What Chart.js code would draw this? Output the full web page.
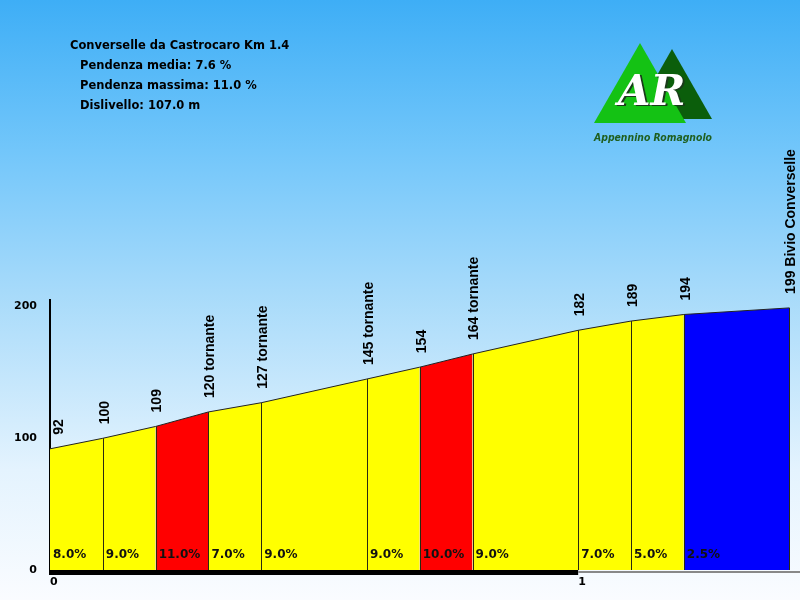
<!DOCTYPE html>
<html>
<head>
<meta charset="utf-8">
<script src="https://cdn.jsdelivr.net/npm/chart.js@4"></script>
<style>
  html, body { margin: 0; padding: 0; }
  body {
    width: 800px; height: 600px; overflow: hidden;
    background: linear-gradient(to bottom, #3eaef6 0px, #72c6fa 150px, #a6dafa 290px, #e4f3fe 470px, #fafcff 600px);
  }
  #box { position: relative; width: 800px; height: 600px; }
</style>
</head>
<body>
<div id="box"><canvas id="profilo"></canvas></div>
<script>
// ==============================
// DATI
// ==============================
const km = [0, 0.1, 0.2, 0.3, 0.4, 0.6, 0.7, 0.8, 1.0, 1.1, 1.2, 1.4];
const quote = [92, 100, 109, 120, 127, 145, 154, 164, 182, 189, 194, 199];
const nomiPunti = ["92", "100", "109", "120 tornante", "127 tornante", "145 tornante",
                   "154", "164 tornante", "182", "189", "194", "199 Bivio Converselle"];
const pendenze = [8.0, 9.0, 11.0, 7.0, 9.0, 9.0, 10.0, 9.0, 7.0, 5.0, 2.5];
const tickY = [0, 100, 200];
const tickKm = [0, 1];
const intestazione = [
    "Converselle da Castrocaro Km 1.4",
    "Pendenza media: 7.6 %",
    "Pendenza massima: 11.0 %",
    "Dislivello: 107.0 m"
];

function colorePendenza(p) {
    if (p >= 10) return "#ff0000";
    if (p < 5) return "#0000ff";
    return "#ffff00";
}

// ==============================
// PLUGIN: separatori, etichette, logo
// ==============================
const decorazioni = {
    id: "decorazioni",
    afterDatasetsDraw(chart) {
        const ctx = chart.ctx;
        const x = chart.scales.x;
        const y = chart.scales.y;
        const area = chart.chartArea;
        const base = y.getPixelForValue(0);

        ctx.save();
        // linee verticali
        ctx.strokeStyle = "#2a2a10";
        ctx.lineWidth = 1;
        for (let i = 1; i < km.length; i++) {
            const px = Math.round(x.getPixelForValue(km[i])) + 0.5;
            ctx.beginPath();
            ctx.moveTo(px, y.getPixelForValue(quote[i]));
            ctx.lineTo(px, base);
            ctx.stroke();
        }

        // asse x: nero fino a 1 km, grigio dopo
        const x0 = x.getPixelForValue(0);
        const x1 = x.getPixelForValue(1);
        ctx.fillStyle = "#000";
        ctx.fillRect(x0 - 1, base, x1 - x0 + 1, 5);
        ctx.fillStyle = "#888";
        ctx.fillRect(x1, base + 1, area.right - x1, 2);

        // pendenze
        ctx.font = "bold 12px 'DejaVu Sans'";
        ctx.fillStyle = "#111";
        ctx.textBaseline = "middle";
        ctx.textAlign = "left";
        pendenze.forEach((p, i) => {
            ctx.fillText(p.toFixed(1) + "%", x.getPixelForValue(km[i]) + 3, base - 15);
        });

        // quote ruotate
        ctx.font = "bold 14px 'Liberation Sans'";
        ctx.fillStyle = "#000";
        nomiPunti.forEach((nome, i) => {
            const px = Math.max(x.getPixelForValue(km[i]) + 2, area.left + 9);
            const py = y.getPixelForValue(quote[i]) - 14;
            ctx.save();
            ctx.translate(px, py);
            ctx.rotate(-Math.PI / 2);
            ctx.fillText(nome, 0, 0);
            ctx.restore();
        });

        // intestazione
        ctx.font = "bold 11.5px 'DejaVu Sans'";
        ctx.fillStyle = "#000";
        intestazione.forEach((riga, i) => {
            ctx.fillText(riga, i === 0 ? 70 : 80, 46 + i * 20);
        });

        // logo
        ctx.fillStyle = "#0b5e0b";
        ctx.beginPath();
        ctx.moveTo(672, 49); ctx.lineTo(712, 119); ctx.lineTo(632, 119); ctx.closePath();
        ctx.fill();
        ctx.fillStyle = "#14c214";
        ctx.beginPath();
        ctx.moveTo(640, 43); ctx.lineTo(686, 123); ctx.lineTo(594, 123); ctx.closePath();
        ctx.fill();
        ctx.font = "italic bold 42px 'DejaVu Serif'";
        ctx.textBaseline = "alphabetic";
        ctx.fillStyle = "#1a3a1a";
        ctx.fillText("AR", 620, 106);
        ctx.fillStyle = "#ffffff";
        ctx.fillText("AR", 618, 105);
        ctx.font = "italic bold 11px 'DejaVu Sans'";
        ctx.fillStyle = "#1f5f1f";
        ctx.fillText("Appennino Romagnolo", 594, 141, 118);
        ctx.restore();
    }
};

// ==============================
// GRAFICO
// ==============================
new Chart(document.getElementById("profilo"), {
    type: "line",
    data: {
        datasets: [{
            data: km.map((k, i) => ({ x: k, y: quote[i] })),
            fill: "origin",
            borderColor: "#222",
            borderWidth: 1,
            pointRadius: 0,
            tension: 0,
            segment: {
                backgroundColor: c => colorePendenza(pendenze[c.p0DataIndex])
            }
        }]
    },
    options: {
        responsive: true,
        maintainAspectRatio: false,
        animation: false,
        layout: { padding: { top: 300, left: 0, right: 0, bottom: 0 } },
        plugins: {
            legend: { display: false },
            tooltip: { enabled: false }
        },
        scales: {
            x: {
                type: "linear",
                min: 0,
                max: 1.42,
                afterBuildTicks: s => { s.ticks = tickKm.map(v => ({ value: v })); },
                afterFit: s => { s.height = 30; },
                grid: { display: false, drawTicks: false },
                border: { display: false },
                ticks: {
                    align: "start",
                    padding: 6,
                    color: "#000",
                    font: { family: "DejaVu Sans", size: 11, weight: "bold" }
                }
            },
            y: {
                min: 0,
                max: 205,
                afterBuildTicks: s => { s.ticks = tickY.map(v => ({ value: v })); },
                afterFit: s => { s.width = 50; },
                grid: { display: false, drawTicks: false },
                border: { display: true, color: "#000", width: 2 },
                ticks: {
                    padding: 13,
                    color: "#000",
                    font: { family: "DejaVu Sans", size: 11, weight: "bold" }
                }
            }
        }
    },
    plugins: [decorazioni]
});
</script>
</body>
</html>
